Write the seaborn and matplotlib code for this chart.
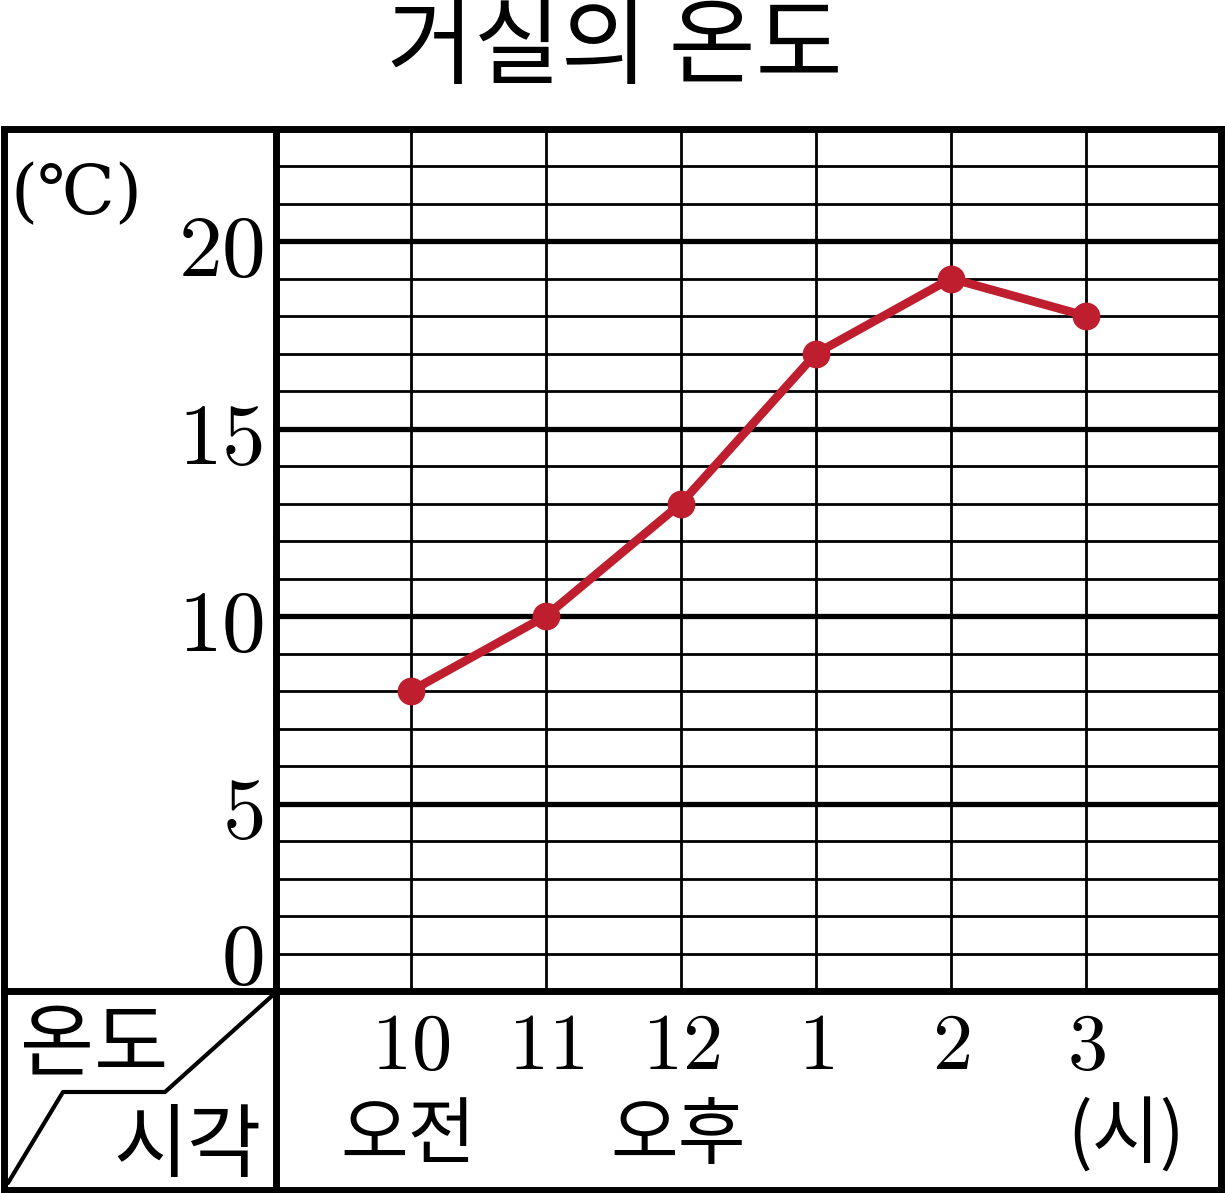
import matplotlib
matplotlib.use("Agg")
import matplotlib.pyplot as plt
import matplotlib.transforms as mtransforms
import seaborn as sns
import pandas as pd

# datos
horas = ["10", "11", "12", "1", "2", "3"]
temperaturas = [8, 10, 13, 17, 19, 18]
periodos = ["오전", "", "오후", "", "", ""]
yticks = [0, 5, 10, 15, 20]

sns.set_style("white")
plt.rcParams["font.family"] = ["Noto Sans CJK KR", "DejaVu Sans"]
plt.rcParams["mathtext.fontset"] = "cm"
plt.rcParams["text.color"] = "black"
plt.rcParams["xtick.color"] = "black"
plt.rcParams["ytick.color"] = "black"

rojo = "#BE1E2D"
df = pd.DataFrame({"x": range(len(horas)), "temp": temperaturas})

fig = plt.figure(figsize=(12.25, 11.93), dpi=100)

# ejes de fondo en pixeles para el marco y la celda diagonal
bg = fig.add_axes([0, 0, 1, 1])
bg.set_xlim(0, 1225)
bg.set_ylim(1193, 0)
bg.axis("off")

W, H = 1225, 1193
L, R, T, B = 276, 1221, 128.5, 991
ax = fig.add_axes([L / W, 1 - B / H, (R - L) / W, (B - T) / H])
ax.set_facecolor("white")

# cuadricula
for y in range(1, 23):
    grueso = y % 5 == 0
    ax.axhline(y, color="black", lw=3.8 if grueso else 2.0, zorder=1)
for i in range(len(horas)):
    ax.axvline(i, color="black", lw=2.0, zorder=1)

sns.lineplot(data=df, x="x", y="temp", ax=ax, color=rojo, lw=6.2,
             marker="o", markersize=20, markeredgewidth=0, zorder=3)

ax.set_xlim(-1, len(horas))
ax.set_ylim(0, 23)
ax.set_xlabel("")
ax.set_ylabel("")
ax.set_xticks(range(len(horas)))
ax.set_xticklabels([f"${h}$" for h in horas], fontsize=58)
ax.set_yticks(yticks)
ax.set_yticklabels([f"${v}$" for v in yticks], fontsize=63)
ax.tick_params(axis="both", length=0)
ax.tick_params(axis="x", pad=10)
ax.tick_params(axis="y", pad=9)
# el 0 va un poco por encima de la linea inferior
cero = ax.get_yticklabels()[0]
cero.set_verticalalignment("baseline")
cero.set_transform(cero.get_transform() +
                   mtransforms.ScaledTranslation(0, 5 / 72, fig.dpi_scale_trans))
for s in ax.spines.values():
    s.set_linewidth(5)
    s.set_color("black")

# fila de periodos (오전 / 오후)
for i, p in enumerate(periodos):
    if p:
        ax.text(i - 0.02, -0.169, p, transform=ax.get_xaxis_transform(),
                ha="center", va="center", fontsize=53, clip_on=False)
ax.text(5.3, -0.169, "(시)", transform=ax.get_xaxis_transform(),
        ha="center", va="center", fontsize=53, clip_on=False)

# marco exterior
lw = 5
bg.plot([4, 4], [T, 1190], color="black", lw=lw, solid_capstyle="projecting")
bg.plot([4, R], [1190, 1190], color="black", lw=lw, solid_capstyle="projecting")
bg.plot([R, R], [B, 1190], color="black", lw=lw, solid_capstyle="projecting")
bg.plot([4, L], [T, T], color="black", lw=lw, solid_capstyle="projecting")
bg.plot([L, L], [B, 1190], color="black", lw=lw, solid_capstyle="projecting")
bg.plot([4, L], [B, B], color="black", lw=lw, solid_capstyle="projecting")

# celda diagonal
bg.plot([273, 165, 63, 8], [995, 1092, 1092, 1183], color="black", lw=3)
bg.text(94, 1046, "온도", ha="center", va="center", fontsize=58)
bg.text(188, 1148, "시각", ha="center", va="center", fontsize=58)

# unidad
bg.text(76, 195, "(℃)", ha="center", va="center", fontsize=50,
        family=["DejaVu Serif", "Noto Sans CJK KR"])

# titulo
bg.text(615, 49, "거실의 온도", ha="center", va="center", fontsize=68)

fig.savefig("out.png", dpi=100)
